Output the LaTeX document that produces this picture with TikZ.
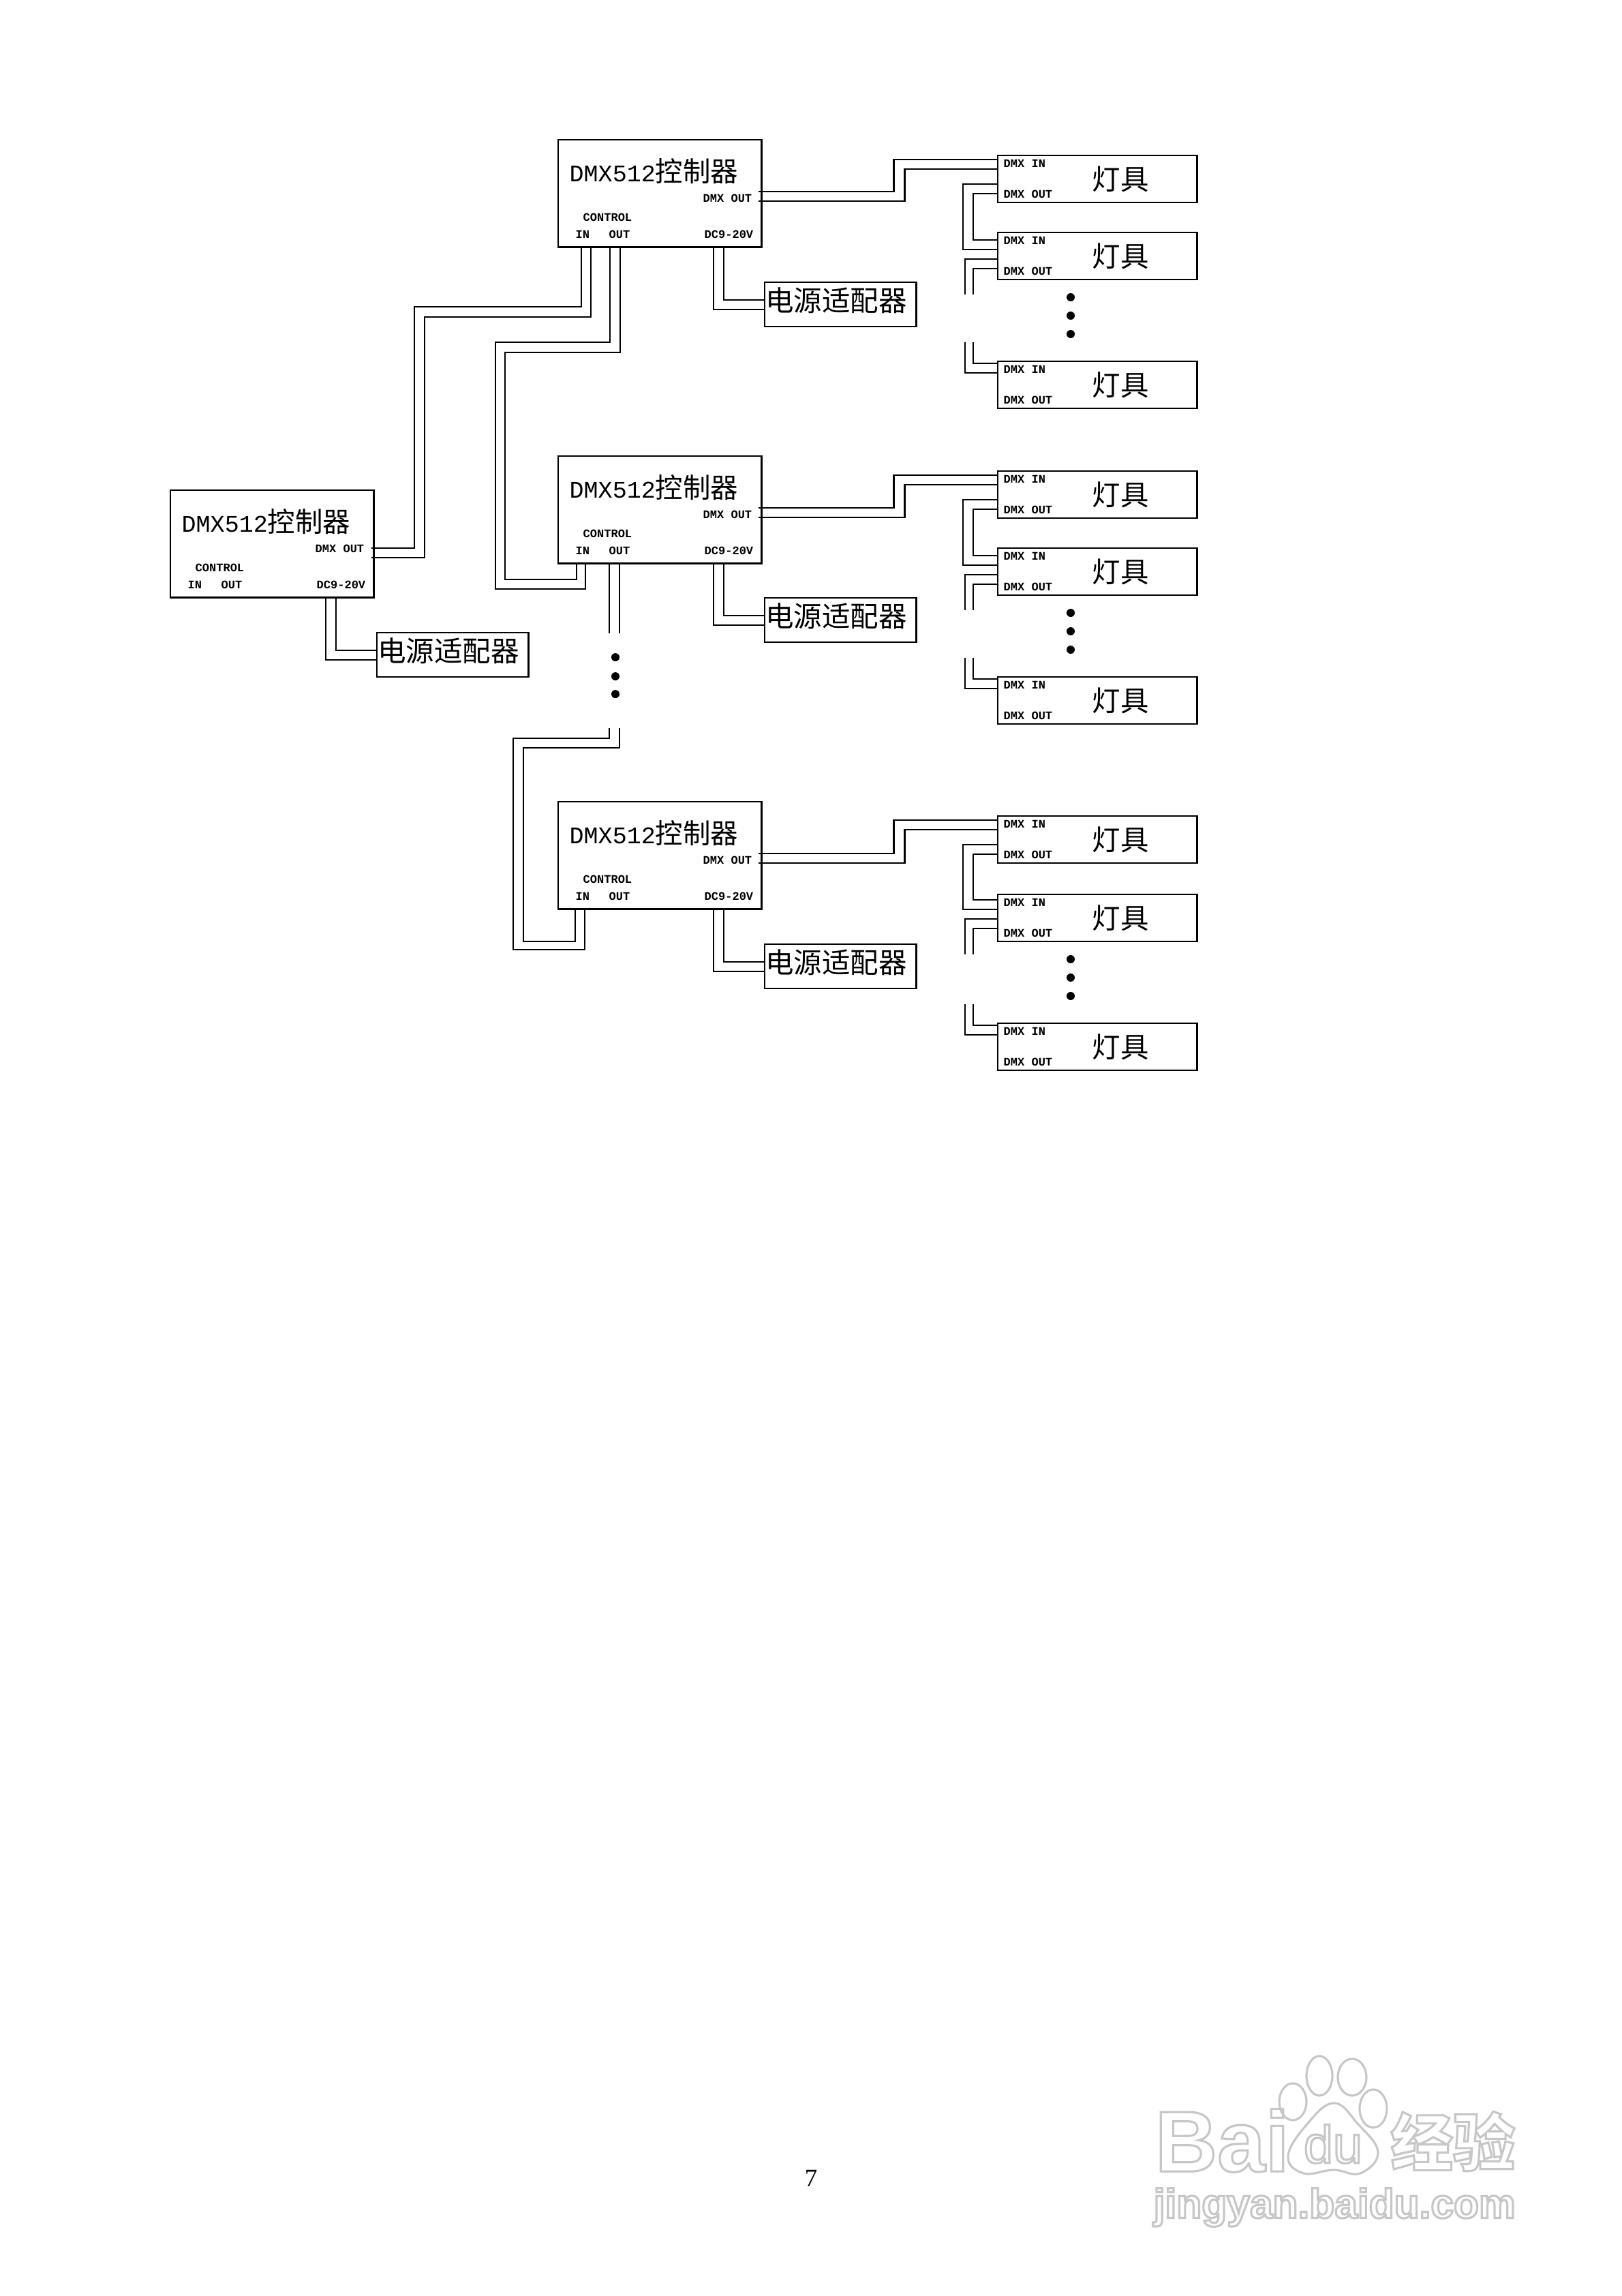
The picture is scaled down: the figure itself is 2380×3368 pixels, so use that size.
\documentclass[tikz,border=0pt]{standalone}
\usepackage{fontspec}
\setmainfont{Liberation Serif}
\newfontfamily\cjkfont{Noto Sans CJK SC}
\newfontfamily\bitfont{Liberation Mono}
\newfontfamily\markfont{Liberation Sans}
\usetikzlibrary{calc,positioning}
\newcommand{\hollow}[1]{\special{pdf:code 1 Tr 0.78 G 0.9 w}#1\special{pdf:code 0 Tr 0 G 1 w}}
\tikzset{
		ctrlbox/.style={
			rectangle,
			draw=black, line width=.8pt,
			inner sep=0pt, outer sep=0pt,
			minimum width=2.98cm,
			minimum height=1.57cm,
			anchor=north west},
		adapterbox/.style={
			ctrlbox,
			minimum width=2.22cm,
			minimum height=.65cm},
		lampbox/.style={
			ctrlbox,
			minimum width=2.92cm,
			minimum height=.69cm},
		wire/.style={draw, line width=.75pt},
		portlbl/.style={
			inner sep=0pt, anchor=west,
			font=\bitfont\bfseries\fontsize{4.84}{5}\selectfont},
		titlelbl/.style={
			inner sep=0pt, anchor=west,
			font=\bitfont\fontsize{9.96}{11}\selectfont},
		lamplbl/.style={
			inner sep=0pt,
			font=\cjkfont\fontsize{11.8}{12}\selectfont},
		gapdot/.style={circle, fill=black, inner sep=0pt, minimum size=.12cm},
		pawline/.style={draw=black!22, line width=.9pt},
	}
\begin{document}
\begin{tikzpicture}[x=.01cm, y=-.01cm]
	\useasboundingbox (0,0) rectangle (2380,3368);

	%% controllers and their adapters
	\foreach \g/\cx/\cy/\ay in {l/250/719/928, a/819/205/414, b/819/669/877, c/819/1176/1385}{
		\node[ctrlbox] (ctrl\g) at (\cx,\cy) {};
		\node[titlelbl] (title\g) at ([shift={(16,46)}]ctrl\g.north west) {DMX512{\cjkfont\fontsize{11.5}{12}\selectfont 控制器}};
		\node[portlbl] (dmxout\g) at ([shift={(212,86)}]ctrl\g.north west) {DMX OUT};
		\node[portlbl] (control\g) at ([shift={(36,114)}]ctrl\g.north west) {CONTROL};
		\node[portlbl] (ctrlin\g) at ([shift={(25,139)}]ctrl\g.north west) {IN};
		\node[portlbl] (ctrlout\g) at ([shift={(74,139)}]ctrl\g.north west) {OUT};
		\node[portlbl] (power\g) at ([shift={(214,139)}]ctrl\g.north west) {DC9-20V};
		\node[adapterbox] (adapter\g) at ($(ctrl\g.north west)+(303,0)+(0,\ay-\cy)$) {};
		\node[lamplbl] (adaptername\g) at ([shift={(105,27)}]adapter\g.north west) {电源适配器};
		\draw[wire] ([shift={(228,0)}]ctrl\g.south west) |- ([shift={(0,40)}]adapter\g.north west);
		\draw[wire] ([shift={(243,0)}]ctrl\g.south west) |- ([shift={(0,26)}]adapter\g.north west);
	}

	%% lamps behind each controller
	\foreach \g/\ya/\yb/\yc/\sb in {a/228/341/530/0, b/691/804/993/0, c/1197/1312/1501/-3}{
		\foreach \n/\ly in {1/\ya, 2/\yb, 3/\yc}{
			\node[lampbox] (lamp\g\n) at (1464,\ly) {};
			\node[portlbl] (lampin\g\n) at ([shift={(8,12)}]lamp\g\n.north west) {DMX IN};
			\node[portlbl] (lampout\g\n) at ([shift={(8,57)}]lamp\g\n.north west) {DMX OUT};
			\node[lamplbl] (lampname\g\n) at ([shift={(180,35)}]lamp\g\n.north west) {灯具};
		}
		\draw[wire] ([shift={(-4,76)}]ctrl\g.north east) -- ++(198,0) |- ([shift={(0,6)}]lamp\g1.north west);
		\draw[wire] ([shift={(-4,90)}]ctrl\g.north east) -- ++(214,0) |- ([shift={(0,20)}]lamp\g1.north west);
		\draw[wire] ([shift={(0,42)}]lamp\g1.north west) -- ++(-51,0) |- ([shift={(0,25+\sb)}]lamp\g2.north west);
		\draw[wire] ([shift={(0,56)}]lamp\g1.north west) -- ++(-36,0) |- ([shift={(0,11+\sb)}]lamp\g2.north west);
		\draw[wire] ([shift={(0,39+\sb)}]lamp\g2.north west) -- ++(-48,0) -- ++(0,52);
		\draw[wire] ([shift={(0,53+\sb)}]lamp\g2.north west) -- ++(-36,0) -- ++(0,38);
		\draw[wire] ([shift={(-36,-28)}]lamp\g3.north west) |- ([shift={(0,3)}]lamp\g3.north west);
		\draw[wire] ([shift={(-48,-28)}]lamp\g3.north west) |- ([shift={(0,17)}]lamp\g3.north west);
		\node[gapdot] (dot\g1) at ([shift={(107,95)}]lamp\g2.north west) {};
		\node[gapdot] (dot\g2) at ([shift={(107,122)}]lamp\g2.north west) {};
		\node[gapdot] (dot\g3) at ([shift={(107,149)}]lamp\g2.north west) {};
	}

	%% links between the controllers
	\draw[wire] ([shift={(-3,85)}]ctrll.north east) -- ++(63,0) |- ([shift={(34,88)}]ctrla.south west) -- ([shift={(34,0)}]ctrla.south west);
	\draw[wire] ([shift={(-3,99)}]ctrll.north east) -- ++(78,0) |- ([shift={(48,103)}]ctrla.south west) -- ([shift={(48,0)}]ctrla.south west);
	\draw[wire] ([shift={(76,0)}]ctrla.south west) -- ++(0,140) -- ++(-168,0) |- ([shift={(40,38)}]ctrlb.south west) -- ([shift={(40,0)}]ctrlb.south west);
	\draw[wire] ([shift={(91,0)}]ctrla.south west) -- ++(0,155) -- ++(-169,0) |- ([shift={(27,24)}]ctrlb.south west) -- ([shift={(27,0)}]ctrlb.south west);
	\draw[wire] ([shift={(75,0)}]ctrlb.south west) -- ++(0,103);
	\draw[wire] ([shift={(90,0)}]ctrlb.south west) -- ++(0,103);
	\node[gapdot] (dotm1) at ([shift={(84,138)}]ctrlb.south west) {};
	\node[gapdot] (dotm2) at ([shift={(84,166)}]ctrlb.south west) {};
	\node[gapdot] (dotm3) at ([shift={(84,192)}]ctrlb.south west) {};
	\draw[wire] ([shift={(75,242)}]ctrlb.south west) -- ++(0,15) -- ++(-141,0) |- ([shift={(39,60)}]ctrlc.south west) -- ([shift={(39,0)}]ctrlc.south west);
	\draw[wire] ([shift={(90,242)}]ctrlb.south west) -- ++(0,29) -- ++(-141,0) |- ([shift={(25,48)}]ctrlc.south west) -- ([shift={(25,0)}]ctrlc.south west);

	%% page number and mark
	\node[inner sep=0pt, font=\fontsize{10.5}{12}\selectfont] (pagenum) at (1190,3195) {7};
	\draw[pawline] (1897,3083) ellipse (20 and 27);
	\draw[pawline] (1936,3045) ellipse (19 and 29);
	\draw[pawline] (1984,3047) ellipse (21 and 27);
	\draw[pawline] (2015,3093) ellipse (20 and 28);
	\draw[pawline] plot[smooth cycle, tension=.7] coordinates {(1957,3085) (1992,3115) (2022,3157) (1996,3188) (1957,3183) (1913,3188) (1890,3163) (1917,3117)};
	\node[inner sep=0pt, anchor=west, font=\markfont\bfseries\fontsize{36}{38}\selectfont] (markbai) at (1694,3140) {\hollow{Bai}};
	\node[inner sep=0pt, font=\markfont\fontsize{22}{24}\selectfont] (markdu) at (1956,3145) {\hollow{du}};
	\node[inner sep=0pt, font=\cjkfont\bfseries\fontsize{26}{28}\selectfont] (markcn) at (2132,3141) {\hollow{经验}};
	\node[inner sep=0pt, anchor=west, font=\markfont\bfseries\fontsize{17.2}{19}\selectfont] (markurl) at (1692,3238) {\hollow{jingyan.baidu.com}};
\end{tikzpicture}
\end{document}
